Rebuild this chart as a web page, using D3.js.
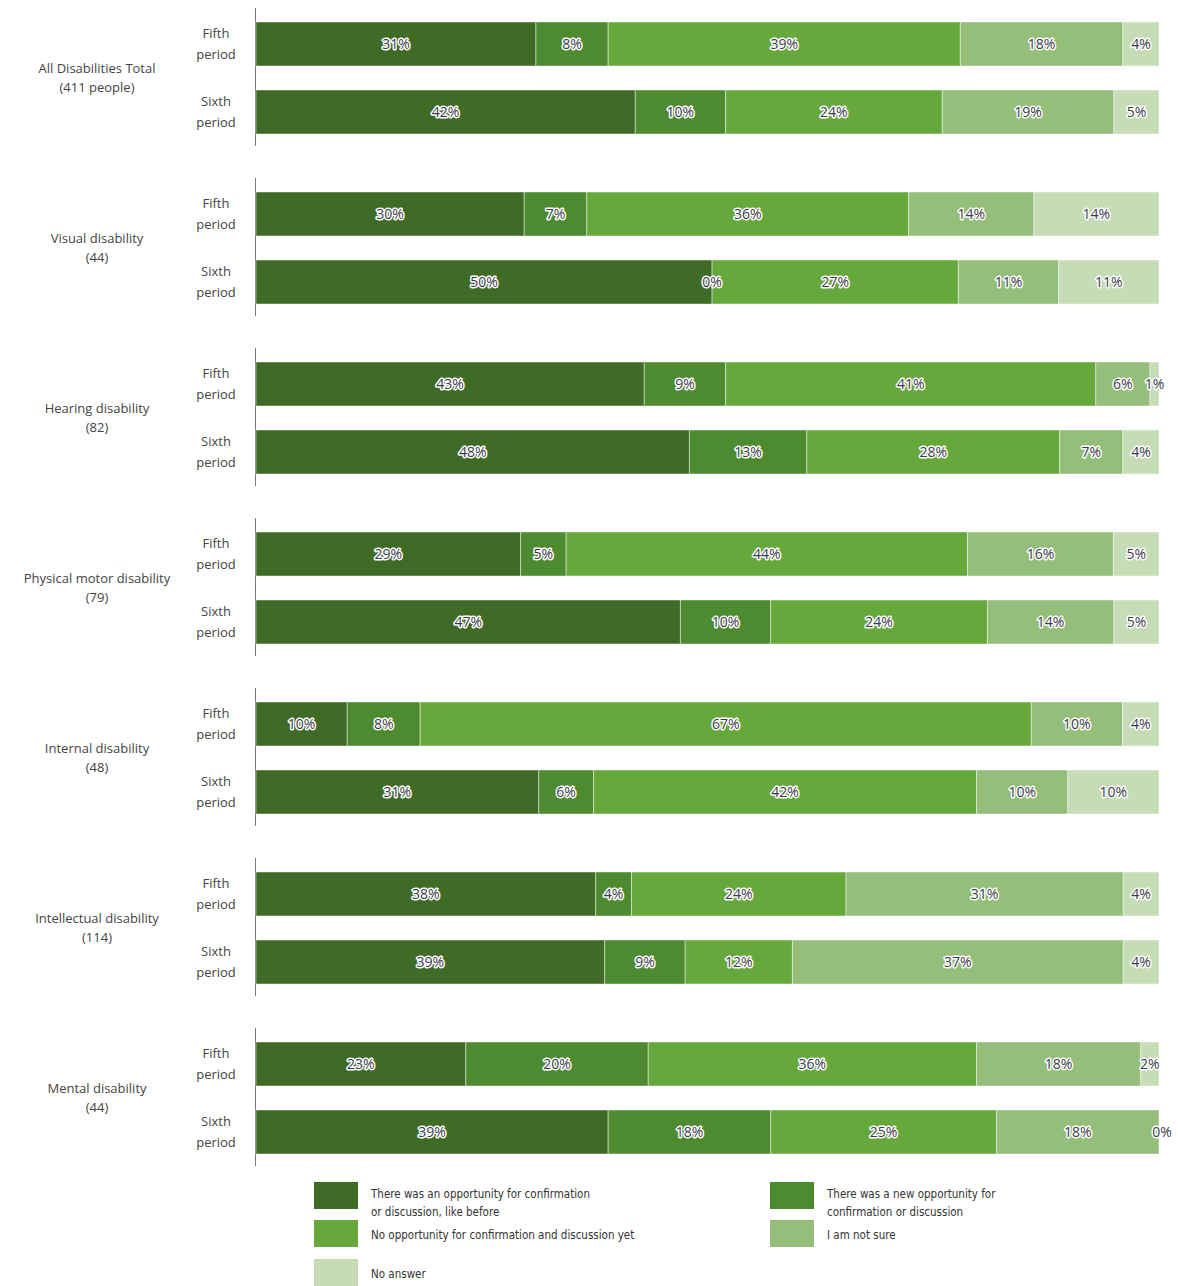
<!DOCTYPE html>
<html>
<head>
<meta charset="utf-8">
<script src="https://cdn.jsdelivr.net/npm/d3@7/dist/d3.min.js"></script>
<style>
  html, body { margin: 0; padding: 0; background: #fff; }
  svg { display: block; }
</style>
</head>
<body>
<svg id="chart" width="1178" height="1286"></svg>
<script>
// ---- data ----
const groups = [
  ["All Disabilities Total", "(411 people)"],
  ["Visual disability", "(44)"],
  ["Hearing disability", "(82)"],
  ["Physical motor disability", "(79)"],
  ["Internal disability", "(48)"],
  ["Intellectual disability", "(114)"],
  ["Mental disability", "(44)"]
];
const periods = [["Fifth", "period"], ["Sixth", "period"]];
const seriesNames = [
  "There was an opportunity for confirmation or discussion, like before",
  "There was a new opportunity for confirmation or discussion",
  "No opportunity for confirmation and discussion yet",
  "I am not sure",
  "No answer"
];
const fifthValues = [
  [31, 8, 39, 18, 4],
  [30, 7, 36, 14, 14],
  [43, 9, 41, 6, 1],
  [29, 5, 44, 16, 5],
  [10, 8, 67, 10, 4],
  [38, 4, 24, 31, 4],
  [23, 20, 36, 18, 2]
];
const sixthValues = [
  [42, 10, 24, 19, 5],
  [50, 0, 27, 11, 11],
  [48, 13, 28, 7, 4],
  [47, 10, 24, 14, 5],
  [31, 6, 42, 10, 10],
  [39, 9, 12, 37, 4],
  [39, 18, 25, 18, 0]
];
const colors = ["#3f6b26", "#4e8a30", "#67a83d", "#94be7a", "#c5dcb6"];
const legendLines = [
  ["There was an opportunity for confirmation", "or discussion, like before"],
  ["There was a new opportunity for", "confirmation or discussion"],
  ["No opportunity for confirmation and discussion yet"],
  ["I am not sure"],
  ["No answer"]
];

// ---- layout ----
const svg = d3.select("#chart");
const x0 = 256, x1 = 1159;
const groupH = 170, top0 = 22, barH = 44, barGap = 68;
const font = "'Open Sans', 'DejaVu Sans', sans-serif";

const rows = [];
groups.forEach((g, gi) => {
  [fifthValues[gi], sixthValues[gi]].forEach((vals, pi) => {
    rows.push({ gi, pi, key: gi + "-" + pi, vals });
  });
});

const y = d3.scaleOrdinal()
  .domain(rows.map(r => r.key))
  .range(rows.map(r => top0 + r.gi * groupH + r.pi * barGap));

const x = d3.scaleLinear().domain([0, 100]).range([x0, x1]);

// axis lines per group
groups.forEach((g, gi) => {
  svg.append("line")
    .attr("x1", x0 - 0.5).attr("x2", x0 - 0.5)
    .attr("y1", top0 + gi * groupH - 14)
    .attr("y2", top0 + gi * groupH + barGap + barH + 12)
    .attr("stroke", "#777").attr("stroke-width", 1);
});

// bars
rows.forEach(r => {
  const total = d3.sum(r.vals);
  let cum = 0;
  const segs = r.vals.map((v, i) => {
    const s = { i, v, start: cum / total * 100, end: (cum + v) / total * 100 };
    cum += v;
    return s;
  });
  const gRow = svg.append("g").attr("transform", `translate(0,${y(r.key)})`);
  gRow.selectAll("rect").data(segs).join("rect")
    .attr("x", d => x(d.start))
    .attr("width", d => Math.max(0, x(d.end) - x(d.start)))
    .attr("y", 0).attr("height", barH)
    .attr("fill", d => colors[d.i])
    .attr("stroke", "rgba(255,255,255,0.45)").attr("stroke-width", 1);
  gRow.selectAll("text").data(segs).join("text")
    .attr("x", d => {
      const c = x((d.start + d.end) / 2);
      return d.v === 0 && d.i === 4 ? c + 3 : c;
    })
    .attr("y", barH / 2 + 5)
    .attr("text-anchor", "middle")
    .attr("font-family", font)
    .attr("font-size", 14)
    .attr("fill", "#3a3a4a")
    .attr("stroke", "#fff").attr("stroke-width", 3)
    .attr("stroke-linejoin", "round")
    .attr("paint-order", "stroke")
    .text(d => d.v + "%");

  // period label
  const pl = svg.append("text")
    .attr("x", 216).attr("text-anchor", "middle")
    .attr("font-family", font).attr("font-size", 13).attr("fill", "#444");
  pl.append("tspan").attr("x", 216).attr("y", y(r.key) + 16).text(periods[r.pi][0]);
  pl.append("tspan").attr("x", 216).attr("y", y(r.key) + 37).text(periods[r.pi][1]);
});

// group labels
groups.forEach((g, gi) => {
  const cy = top0 + gi * groupH + (barGap + barH) / 2;
  const t = svg.append("text").attr("text-anchor", "middle")
    .attr("font-family", font).attr("font-size", 13).attr("fill", "#444");
  t.append("tspan").attr("x", 97).attr("y", cy - 5).text(g[0]);
  t.append("tspan").attr("x", 97).attr("y", cy + 14).text(g[1]);
});

// legend
const legFont = "'Liberation Sans Narrow', 'DejaVu Sans Condensed', sans-serif";
const legPos = [
  { x: 314, y: 1182 },
  { x: 770, y: 1182 },
  { x: 314, y: 1220 },
  { x: 770, y: 1220 },
  { x: 314, y: 1259 }
];
seriesNames.forEach((name, i) => {
  const p = legPos[i];
  const lg = svg.append("g").attr("transform", `translate(${p.x},${p.y})`);
  lg.append("rect").attr("width", 44).attr("height", 27).attr("fill", colors[i]);
  const lines = legendLines[i];
  const t = lg.append("text").attr("font-family", legFont).attr("font-size", 11.5).attr("fill", "#333");
  if (lines.length === 2) {
    t.append("tspan").attr("x", 57).attr("y", 16).text(lines[0]);
    t.append("tspan").attr("x", 57).attr("y", 34).text(lines[1]);
  } else {
    t.append("tspan").attr("x", 57).attr("y", 19).text(lines[0]);
  }
});
</script>
</body>
</html>
